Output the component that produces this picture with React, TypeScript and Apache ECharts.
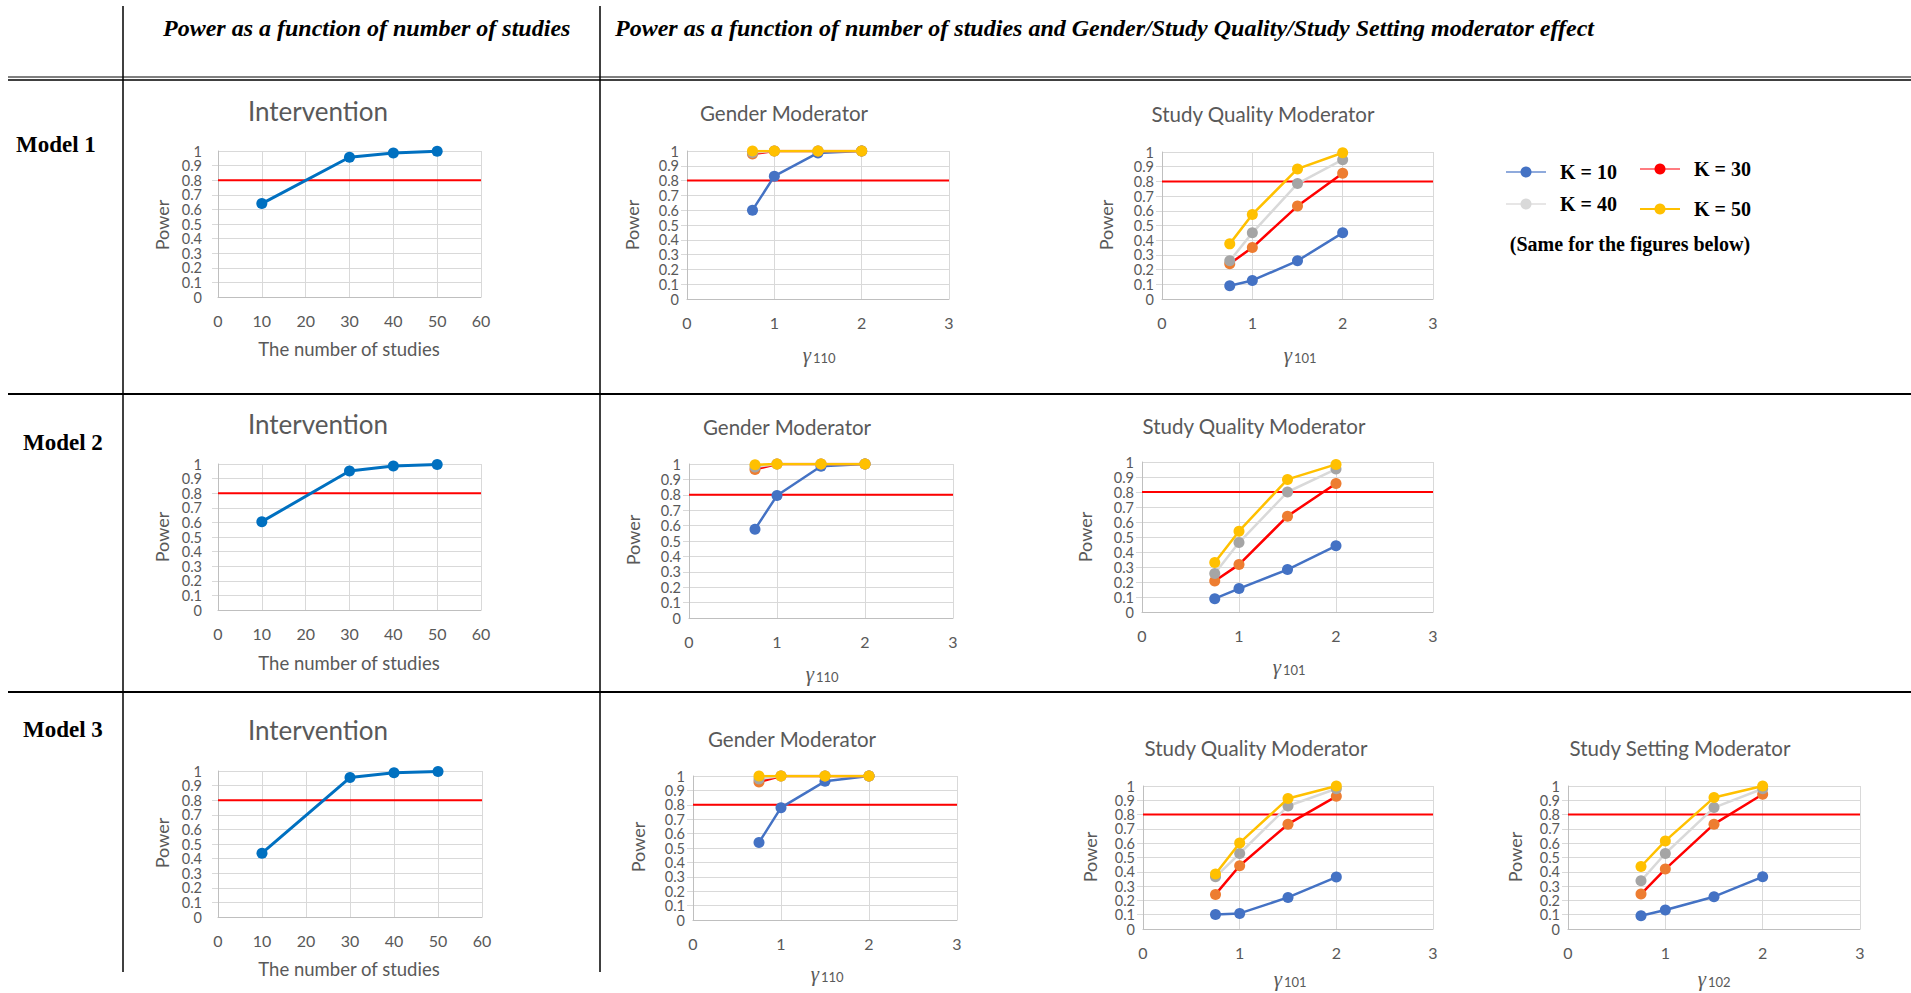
import React, { useEffect, useRef } from 'react';
import * as echarts from 'echarts';

// ---------- DATA ----------
const studyCounts = [10, 30, 40, 50];
const interventionM1 = [0.64, 0.957, 0.986, 0.998];
const interventionM2 = [0.605, 0.952, 0.986, 0.997];
const interventionM3 = [0.437, 0.955, 0.988, 0.997];

const gammaValues = [0.75, 1, 1.5, 2];
const kLabels = ['K = 10', 'K = 30', 'K = 40', 'K = 50'];

// each: [K=10, K=30, K=40, K=50]
const genderM1 = [
  [0.6, 0.83, 0.987, 1.0],
  [0.98, 1.0, 1.0, 1.0],
  [0.99, 1.0, 1.0, 1.0],
  [1.0, 1.0, 1.0, 1.0],
];
const qualityM1 = [
  [0.09, 0.126, 0.26, 0.45],
  [0.24, 0.35, 0.632, 0.855],
  [0.26, 0.45, 0.785, 0.948],
  [0.375, 0.575, 0.885, 0.995],
];
const genderM2 = [
  [0.577, 0.795, 0.985, 1.0],
  [0.965, 1.0, 1.0, 1.0],
  [0.98, 1.0, 1.0, 1.0],
  [0.995, 1.0, 1.0, 1.0],
];
const qualityM2 = [
  [0.089, 0.156, 0.283, 0.441],
  [0.207, 0.316, 0.639, 0.857],
  [0.256, 0.463, 0.8, 0.953],
  [0.33, 0.539, 0.884, 0.984],
];
const genderM3 = [
  [0.538, 0.78, 0.963, 1.0],
  [0.958, 1.0, 1.0, 1.0],
  [0.98, 1.0, 1.0, 1.0],
  [1.0, 1.0, 1.0, 1.0],
];
const qualityM3 = [
  [0.102, 0.109, 0.221, 0.363],
  [0.242, 0.442, 0.733, 0.928],
  [0.365, 0.528, 0.86, 0.981],
  [0.384, 0.602, 0.912, 1.0],
];
const settingM3 = [
  [0.093, 0.133, 0.226, 0.365],
  [0.244, 0.419, 0.733, 0.942],
  [0.337, 0.528, 0.849, 0.981],
  [0.437, 0.616, 0.919, 1.0],
];

const powerThreshold = 0.8;
const headerLeft = 'Power as a function of number of studies';
const headerRight =
  'Power as a function of number of studies and Gender/Study Quality/Study Setting moderator effect';
const modelLabels = ['Model 1', 'Model 2', 'Model 3'];

// ---------- STYLES ----------
const SANS = 'Lato, "Open Sans", sans-serif';
const SERIF = '"Liberation Serif", "Times New Roman", serif';
const GREY = '#595959';
const lineColors = ['#4472C4', '#FF0000', '#D9D9D9', '#FFC000'];
const markerColors = ['#4472C4', '#ED7D31', '#A5A5A5', '#FFC000'];
const legendLineColors = ['#8FAADC', '#FF7C80', '#E7E6E6', '#FFC000'];
const legendMarkerColors = ['#4472C4', '#FF0000', '#D9D9D9', '#FFC000'];

type Spec = {
  kind: 'int' | 'mod';
  grid: { left: number; top: number; width: number; height: number };
  title: string;
  titlePos: [number, number];
  titleSize: number;
  xNamePos: [number, number];
  sub?: string;
  powerPos: [number, number];
  yMargin: number;
  int?: number[];
  mod?: number[][];
};

const specs: Spec[] = [
  { kind: 'int', grid: { left: 218, top: 151, width: 263, height: 146 }, title: 'Intervention', titlePos: [318, 111], titleSize: 26, xNamePos: [349, 349], powerPos: [162, 225], yMargin: 16, int: interventionM1 },
  { kind: 'int', grid: { left: 218, top: 464, width: 263, height: 146 }, title: 'Intervention', titlePos: [318, 424], titleSize: 26, xNamePos: [349, 663], powerPos: [162, 537], yMargin: 16, int: interventionM2 },
  { kind: 'int', grid: { left: 218, top: 771, width: 264, height: 146 }, title: 'Intervention', titlePos: [318, 730], titleSize: 26, xNamePos: [349, 969], powerPos: [162, 843], yMargin: 16, int: interventionM3 },
  { kind: 'mod', grid: { left: 687, top: 151, width: 262, height: 148 }, title: 'Gender Moderator', titlePos: [784, 113], titleSize: 20.5, xNamePos: [817, 357], sub: '110', powerPos: [632, 225], yMargin: 8, mod: genderM1 },
  { kind: 'mod', grid: { left: 1162, top: 152, width: 271, height: 147 }, title: 'Study Quality Moderator', titlePos: [1263, 114], titleSize: 20.5, xNamePos: [1298, 357], sub: '101', powerPos: [1106, 225], yMargin: 8, mod: qualityM1 },
  { kind: 'mod', grid: { left: 689, top: 464, width: 264, height: 154 }, title: 'Gender Moderator', titlePos: [787, 427], titleSize: 20.5, xNamePos: [820, 676], sub: '110', powerPos: [633, 540], yMargin: 8, mod: genderM2 },
  { kind: 'mod', grid: { left: 1142, top: 462, width: 291, height: 150 }, title: 'Study Quality Moderator', titlePos: [1254, 426], titleSize: 20.5, xNamePos: [1287, 669], sub: '101', powerPos: [1085, 537], yMargin: 8, mod: qualityM2 },
  { kind: 'mod', grid: { left: 693, top: 776, width: 264, height: 144 }, title: 'Gender Moderator', titlePos: [792, 739], titleSize: 20.5, xNamePos: [825, 976], sub: '110', powerPos: [638, 847], yMargin: 8, mod: genderM3 },
  { kind: 'mod', grid: { left: 1143, top: 786, width: 290, height: 143 }, title: 'Study Quality Moderator', titlePos: [1256, 748], titleSize: 20.5, xNamePos: [1288, 981], sub: '101', powerPos: [1090, 857], yMargin: 8, mod: qualityM3 },
  { kind: 'mod', grid: { left: 1568, top: 786, width: 292, height: 143 }, title: 'Study Setting Moderator', titlePos: [1680, 748], titleSize: 20.5, xNamePos: [1712, 981], sub: '102', powerPos: [1515, 857], yMargin: 8, mod: settingM3 },
];

function text(x: number, y: number, t: string, style: any, extra: any = {}) {
  return {
    type: 'text',
    x,
    y,
    silent: true,
    ...extra,
    style: { text: t, align: 'center', verticalAlign: 'middle', fill: GREY, fontFamily: SANS, ...style },
  };
}

function line(x1: number, y1: number, x2: number, y2: number, w = 1.5, color = '#000') {
  return { type: 'line', silent: true, shape: { x1, y1, x2, y2 }, style: { stroke: color, lineWidth: w } };
}

const yLabelFmt = (v: number) => String(Math.round(v * 10) / 10);

function buildOption() {
  const grid: any[] = [];
  const xAxis: any[] = [];
  const yAxis: any[] = [];
  const series: any[] = [];
  const graphic: any[] = [];

  specs.forEach((s, i) => {
    const isInt = s.kind === 'int';
    const xmax = isInt ? 60 : 3;
    const yIdx = 2 * i;
    grid.push({ ...s.grid });
    xAxis.push({
      gridIndex: i,
      type: 'value',
      min: 0,
      max: xmax,
      interval: isInt ? 10 : 1,
      axisLine: { show: true, onZero: false, lineStyle: { color: '#BFBFBF', width: 1 } },
      axisTick: { show: false },
      axisLabel: { color: GREY, fontFamily: SANS, fontSize: 16, margin: 15, showMinLabel: true, showMaxLabel: true, hideOverlap: false },
      splitLine: { show: true, lineStyle: { color: '#D9D9D9', width: 1 } },
    });
    // main y axis: gridlines + labels 0.1 … 0.9
    yAxis.push({
      gridIndex: i,
      type: 'value',
      position: 'left',
      min: 0,
      max: 1,
      interval: 0.1,
      axisLine: { show: true, onZero: false, lineStyle: { color: '#BFBFBF', width: 1 } },
      axisTick: { show: true, length: 6, lineStyle: { color: '#D9D9D9' } },
      axisLabel: {
        color: GREY,
        fontFamily: SANS,
        fontSize: 14.5,
        margin: s.yMargin,
        showMinLabel: false,
        showMaxLabel: false,
        hideOverlap: false,
        formatter: yLabelFmt,
      },
      splitLine: { show: true, lineStyle: { color: '#D9D9D9', width: 1 } },
    });
    // companion y axis: only the 0 and 1 labels
    yAxis.push({
      gridIndex: i,
      type: 'value',
      position: 'left',
      offset: 0,
      min: 0,
      max: 1,
      interval: 1,
      axisLine: { show: false },
      axisTick: { show: false },
      axisLabel: {
        color: GREY,
        fontFamily: SANS,
        fontSize: 14.5,
        margin: s.yMargin,
        showMinLabel: true,
        showMaxLabel: true,
        formatter: yLabelFmt,
      },
      splitLine: { show: false },
    });
    series.push({
      type: 'line',
      xAxisIndex: i,
      yAxisIndex: yIdx,
      data: [
        [0, powerThreshold],
        [xmax, powerThreshold],
      ],
      symbol: 'none',
      silent: true,
      lineStyle: { color: '#FF0000', width: 2 },
      z: 2,
    });
    if (isInt && s.int) {
      series.push({
        type: 'line',
        xAxisIndex: i,
        yAxisIndex: yIdx,
        data: studyCounts.map((k, j) => [k, s.int![j]]),
        symbol: 'circle',
        symbolSize: 11,
        itemStyle: { color: '#0070C0' },
        lineStyle: { color: '#0070C0', width: 3 },
        z: 3,
      });
    }
    if (!isInt && s.mod) {
      s.mod.forEach((vals, k) => {
        series.push({
          type: 'line',
          name: kLabels[k],
          xAxisIndex: i,
          yAxisIndex: yIdx,
          data: gammaValues.map((g, j) => [g, vals[j]]),
          symbol: 'circle',
          symbolSize: 11,
          itemStyle: { color: markerColors[k] },
          lineStyle: { color: lineColors[k], width: 2.5 },
          z: 3 + k,
        });
      });
    }
    // titles & axis names
    graphic.push(text(s.titlePos[0], s.titlePos[1], s.title, { fontSize: s.titleSize }));
    graphic.push(text(s.powerPos[0], s.powerPos[1], 'Power', { fontSize: 18 }, { rotation: Math.PI / 2 }));
    if (isInt) {
      graphic.push(text(s.xNamePos[0], s.xNamePos[1], 'The number of studies', { fontSize: 18.5 }));
    } else {
      graphic.push(
        text(s.xNamePos[0] - 10, s.xNamePos[1] - 2, 'γ', { fontSize: 21, fontFamily: SERIF, fontStyle: 'italic' })
      );
      graphic.push(
        text(s.xNamePos[0] - 4, s.xNamePos[1] + 1, s.sub || '', { fontSize: 13, align: 'left' })
      );
    }
  });

  // table lines
  graphic.push(line(123, 6, 123, 972));
  graphic.push(line(600, 6, 600, 972));
  graphic.push(line(8, 77, 1911, 77, 1));
  graphic.push(line(8, 80, 1911, 80, 1.5));
  graphic.push(line(8, 394, 1911, 394, 2));
  graphic.push(line(8, 692, 1911, 692, 2));

  // headers
  const headStyle = { fontFamily: SERIF, fontWeight: 'bold', fontStyle: 'italic', fontSize: 24, fill: '#000', align: 'left' };
  graphic.push(text(163, 28, headerLeft, headStyle));
  graphic.push(text(615, 28, headerRight, headStyle));

  // model labels
  const modelStyle = { fontFamily: SERIF, fontWeight: 'bold', fontSize: 23, fill: '#000', align: 'left' };
  graphic.push(text(16, 144, modelLabels[0], modelStyle));
  graphic.push(text(23, 442, modelLabels[1], modelStyle));
  graphic.push(text(23, 729, modelLabels[2], modelStyle));

  // legend
  const legendPos: [number, number][] = [
    [1526, 172],
    [1660, 169],
    [1526, 204],
    [1660, 209],
  ];
  legendPos.forEach(([cx, cy], k) => {
    graphic.push(line(cx - 20, cy, cx + 20, cy, 2, legendLineColors[k]));
    graphic.push({
      type: 'circle',
      silent: true,
      shape: { cx, cy, r: 5.5 },
      style: { fill: legendMarkerColors[k] },
    });
    graphic.push(
      text(cx + 34, cy, kLabels[k], { fontFamily: SERIF, fontWeight: 'bold', fontSize: 20, fill: '#000', align: 'left' })
    );
  });
  graphic.push(
    text(1630, 244, '(Same for the figures below)', { fontFamily: SERIF, fontWeight: 'bold', fontSize: 20, fill: '#000' })
  );

  return {
    animation: false,
    backgroundColor: '#ffffff',
    grid,
    xAxis,
    yAxis,
    series,
    graphic: { elements: graphic },
  };
}

export default function App() {
  const ref = useRef<HTMLDivElement>(null);
  useEffect(() => {
    if (!ref.current) return;
    const chart = echarts.init(ref.current, undefined, { renderer: 'svg' });
    chart.setOption(buildOption() as any);
    return () => chart.dispose();
  }, []);
  return (
    <div
      ref={ref}
      style={{ position: 'absolute', left: 0, top: 0, width: 1911, height: 993, background: '#fff' }}
    />
  );
}
